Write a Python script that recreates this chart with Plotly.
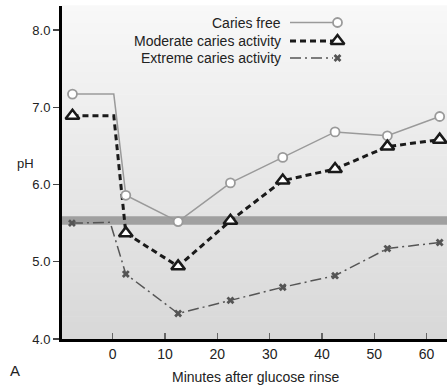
import plotly.graph_objects as go

# ---- data ----
minutes_cf = [-7.7, 0.2, 2.5, 12.5, 22.5, 32.5, 42.5, 52.5, 62.5]
ph_caries_free = [7.17, 7.17, 5.86, 5.52, 6.02, 6.35, 6.68, 6.63, 6.88]

minutes_mod = [-7.7, 0.2, 2.5, 12.5, 22.5, 32.5, 42.5, 52.5, 62.5]
ph_moderate = [6.89, 6.89, 5.37, 4.94, 5.53, 6.05, 6.20, 6.49, 6.58]

minutes_ext = [-7.8, -0.5, 2.5, 12.5, 22.5, 32.5, 42.5, 52.5, 62.5]
ph_extreme = [5.50, 5.51, 4.84, 4.33, 4.50, 4.67, 4.82, 5.17, 5.25]

marker_shown = [1, 0, 1, 1, 1, 1, 1, 1, 1]

series_names = ["Caries free", "Moderate caries activity", "Extreme caries activity"]
critical_ph_band = [5.48, 5.59]

x_tick_vals = [0, 10, 20, 30, 40, 50, 60]
y_tick_vals = [4.0, 5.0, 6.0, 7.0, 8.0]
y_tick_text = ["4.0", "5.0", "6.0", "7.0", "8.0"]

W, H = 447, 385
L, R, T, B = 62, 0, 6, 46
FONT = "Liberation Sans, Arial, Helvetica, sans-serif"

fig = go.Figure()

# gradient background (vertical)
N = 60
top_c, bot_c = 248, 216
shapes = []
for i in range(N):
    f = (i + 0.5) / N  # 0 bottom -> 1 top
    v = round(bot_c + (top_c - bot_c) * f)
    shapes.append(dict(type="rect", xref="x domain", yref="y domain",
                       x0=0, x1=1, y0=i / N, y1=(i + 1) / N + 0.002,
                       fillcolor=f"rgb({v},{v},{v})", line=dict(width=0), layer="below"))
# critical pH band
shapes.append(dict(type="rect", xref="x domain", yref="y", x0=0, x1=1,
                   y0=critical_ph_band[0], y1=critical_ph_band[1],
                   fillcolor="#a0a0a0", line=dict(width=0), layer="below"))

styles = [
    dict(line=dict(color="#9a9a9a", width=1.5, dash="solid"),
         marker=dict(symbol="circle", size=9, color="white", line=dict(color="#9a9a9a", width=1.8))),
    dict(line=dict(color="#1a1a1a", width=3, dash="6px,4px"),
         marker=dict(symbol="triangle-up", size=12, color="white", line=dict(color="#1a1a1a", width=2.5))),
    dict(line=dict(color="#555555", width=1.5, dash="11px,4px,2px,4px"),
         marker=dict(symbol="x", size=7, color="#555555", line=dict(width=0))),
]
data = [(minutes_cf, ph_caries_free), (minutes_mod, ph_moderate), (minutes_ext, ph_extreme)]

for (xs, ys), st, name in zip(data, styles, series_names):
    fig.add_trace(go.Scatter(x=xs, y=ys, mode="lines", line=st["line"],
                             name=name, showlegend=False, hoverinfo="skip"))
for (xs, ys), st, name in zip(data, styles, series_names):
    m = dict(st["marker"])
    m["opacity"] = marker_shown
    fig.add_trace(go.Scatter(x=xs, y=ys, mode="markers", marker=m,
                             name=name, showlegend=False))

# custom legend (text left of sample) on an overlay axis in plot-fraction units
def fx(px):
    return (px - L) / (W - L - R)

def fy(py):
    return (H - B - py) / (H - B - T)

rows_py = [22.5, 41, 58]
ann = []
for name, st, py in zip(series_names, styles, rows_py):
    fig.add_trace(go.Scatter(x=[fx(290), fx(333)], y=[fy(py), fy(py)], mode="lines",
                             line=st["line"], xaxis="x2", yaxis="y2",
                             showlegend=False, hoverinfo="skip"))
    fig.add_trace(go.Scatter(x=[fx(337.5)], y=[fy(py)], mode="markers",
                             marker=st["marker"], xaxis="x2", yaxis="y2",
                             showlegend=False, hoverinfo="skip"))
    ann.append(dict(text=name, x=fx(283), y=fy(py), xref="paper", yref="paper",
                    xanchor="right", yanchor="middle", showarrow=False,
                    font=dict(size=14, color="#222222", family=FONT)))

ann.append(dict(text="pH", x=fx(25), y=fy(163), xref="paper", yref="paper",
                xanchor="center", yanchor="middle", showarrow=False,
                font=dict(size=13, color="#222222", family=FONT)))
ann.append(dict(text="A", x=fx(15), y=fy(370), xref="paper", yref="paper",
                xanchor="center", yanchor="middle", showarrow=False,
                font=dict(size=15, color="#222222", family=FONT)))
ann.append(dict(text="Minutes after glucose rinse", x=fx(256), y=fy(377), xref="paper", yref="paper",
                xanchor="center", yanchor="middle", showarrow=False,
                font=dict(size=14, color="#222222", family=FONT)))

fig.update_layout(
    width=W, height=H,
    margin=dict(l=L, r=R, t=T, b=B, pad=0),
    paper_bgcolor="white", plot_bgcolor="white",
    font=dict(family=FONT, color="#222222"),
    showlegend=False,
    shapes=shapes,
    annotations=ann,
    xaxis=dict(range=[-9.7, 63.9], tickvals=x_tick_vals, ticks="inside", ticklen=6,
               tickwidth=1.5, tickcolor="#666666", showline=True, linecolor="black",
               linewidth=3, showgrid=False, zeroline=False,
               tickfont=dict(size=14, color="#222222", family=FONT)),
    yaxis=dict(range=[4.0, 8.31], tickvals=y_tick_vals, ticktext=y_tick_text,
               ticks="outside", ticklen=6, tickwidth=1.2, tickcolor="#444444",
               showline=True, linecolor="black", linewidth=3, showgrid=False,
               zeroline=False, tickfont=dict(size=13, color="#222222", family=FONT)),
    xaxis2=dict(overlaying="x", range=[0, 1], visible=False, fixedrange=True),
    yaxis2=dict(overlaying="y", range=[0, 1], visible=False, fixedrange=True),
)

fig.write_html("out.html", config={"displayModeBar": False, "staticPlot": True},
               post_script="document.body.style.margin='0';document.body.style.overflow='hidden';")
